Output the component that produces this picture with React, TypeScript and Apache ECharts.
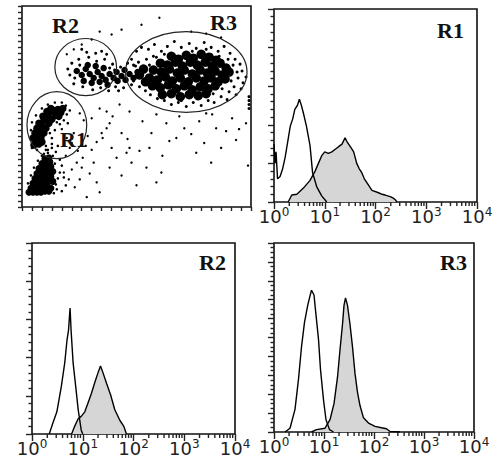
import React, { useEffect, useRef } from "react";
import * as echarts from "echarts";

// ---------- Scatter (FSC/SSC style) points, panel units ----------
const R3_CORE = [
  [150,153],[157,150],[165,154],[172,151],[180,155],[188,152],[195,149],
  [139,146],[146,144],[154,147],[161,143],[169,147],[176,144],[184,147],[191,143],[199,146],[205,141],
  [132,139],[140,137],[148,140],[156,136],[163,139],[171,135],[179,139],[186,136],[194,138],[201,134],[208,137],
  [128,131],[136,129],[144,132],[151,128],[159,131],[167,127],[175,131],[183,128],[190,131],[197,127],[204,130],
  [131,123],[139,121],[147,124],[155,120],[163,123],[171,119],[179,122],[187,120],[194,123],
  [141,114],[150,115],[159,112],[168,114],[177,113],[185,115],
  [118,134],[122,140],[124,127]
];
const R3_HALO = [
  [110,150],[115,158],[120,162],[127,160],[133,165],[140,158],[146,163],[153,168],[160,162],[168,166],[175,161],
  [183,167],[190,162],[197,158],[203,163],[209,156],[214,150],[219,145],[221,138],[217,131],[222,126],[213,122],
  [215,114],[208,117],[206,109],[200,112],[193,106],[187,108],[180,103],[172,106],[165,102],[157,106],[150,104],
  [143,108],[136,110],[129,114],[124,118],[118,122],[112,128],[108,136],[112,144],[117,147],[125,150],[132,153],
  [212,144],[210,128],[201,120],[192,115],[128,144],[135,152],[143,155],[171,158],[185,160],[160,108],[176,110],
  [198,153],[207,150],[216,137],[220,120],[225,132]
];
const R2_CORE = [
  [55,138],[60,134],[64,140],[68,135],[72,131],[76,137],[80,133],[84,129],[88,135],[62,128],[70,126],[78,127],
  [86,124],[66,144],[74,143],[82,141],[92,131],[96,128],[100,133],[104,129],[108,135],[112,131],[116,137],[103,139],[95,137]
];
const R2_HALO = [
  [46,140],[50,146],[53,131],[57,150],[61,122],[67,152],[71,119],[75,148],[79,121],[83,150],[87,118],[91,145],
  [94,122],[99,142],[102,121],[106,146],[110,124],[114,143],[58,144],[48,134],[52,125],[88,141],[93,139],[97,118],
  [74,156],[80,158],[65,157],[60,160],[85,155]
];
const R1_CORE = [
  [14,68],[16,73],[18,78],[20,83],[22,88],[25,92],[28,96],[32,98],[36,99],[39,96],[19,70],[22,75],[24,80],[27,85],
  [30,89],[34,93],[13,75],[15,80],[17,85],[21,92],[25,97],[29,100],[37,92],[41,100],[12,63],[17,64],[20,66],[11,70]
];
const R1_HALO = [
  [10,60],[15,58],[24,62],[30,70],[33,78],[38,84],[42,88],[45,94],[44,103],[40,106],[33,106],[26,104],[20,100],
  [14,93],[10,86],[9,78],[28,75],[35,86],[48,98],[46,85],[26,58],[22,54],[30,64]
];
const LOW_CORE = [
  [7,15],[11,15],[15,15],[19,15],[23,16],[27,16],[9,19],[13,19],[17,20],[21,20],[25,21],[29,19],[11,24],[15,24],
  [19,25],[23,25],[27,26],[13,29],[17,29],[21,30],[25,30],[29,31],[15,34],[19,34],[23,35],[27,36],[17,39],[21,39],
  [25,40],[29,41],[20,44],[24,45],[28,46],[23,49],[27,50],[31,36],[31,26]
];
const LOW_HALO = [
  [32,14],[35,18],[34,23],[36,29],[38,35],[33,44],[31,52],[34,56],[26,55],[20,52],[16,47],[12,40],[9,32],[6,24],
  [30,60],[36,62],[24,58],[38,48],[40,42],[42,30],[44,22],[40,16]
];
const SPARSE = [
  [40,79],[56,57],[61,50],[68,34],[75,25],[78,15],[81,70],[85,80],[88,85],[100,75],[106,69],[108,60],[118,57],
  [128,60],[141,52],[148,67],[163,80],[170,74],[183,65],[195,80],[205,77],[218,79],[100,32],[115,22],[135,25],
  [65,10],[85,97],[91,92],[98,104],[108,97],[121,87],[135,94],[158,92],[178,87],[191,94],[211,90],
  [45,70],[50,65],[52,75],[48,60],[55,45],[60,40],[44,52],[50,38],[58,28],[42,35],[47,28],[53,20],[64,62],[70,58],
  [72,45],[66,72],[75,66],[62,88],[58,95],[70,90],[78,100],[80,75],[90,60],[95,50],[110,45],[125,40],[140,35],
  [88,40],[105,55],[130,75],[145,85],[155,70],[175,55],[190,45],[200,60],[215,68],[225,85],[185,95],
  [138,192],[100,180],[120,185],[170,178],[185,176],[200,172],[90,175],[78,178],[70,170],[60,165],[52,160],[45,155],
  [227,42]
];
const EDGE = [[228,100],[228,104],[228,108],[228,112]];

// gates: centre x, centre y, radius x, radius y (panel units)
const GATES = [[35,83,30,34],[64,142,31,29],[165,137,61,41]];

// ---------- Histograms: x in log10 units, y in counts ----------
const R1_OPEN_LOG = [0,0.02,0.04,0.07,0.12,0.17,0.22,0.27,0.32,0.37,0.41,0.46,0.5,0.54,0.58,0.64,0.71,0.76,0.84,0.94,1.04];
const R1_OPEN_CNT = [75,50,65,30,33,43,58,78,98,108,120,125,133,125,115,98,73,38,20,8,0];
const R1_FILL_LOG = [0.28,0.35,0.45,0.58,0.71,0.81,0.875,0.94,1.0,1.07,1.14,1.2,1.24,1.3,1.34,1.4,1.44,1.47,1.52,1.57,1.63,1.68,1.73,1.78,1.83,1.93,2.06,2.13,2.19,2.29,2.35,2.39,2.42];
const R1_FILL_CNT = [0,9,10,18,28,40,50,60,65,63,65,68,70,73,75,83,78,75,70,65,50,43,38,30,25,15,12,10,9,7,5,3,0];

const R2_OPEN_LOG = [0.34,0.41,0.49,0.58,0.645,0.69,0.72,0.75,0.77,0.81,0.86,0.91,0.97,1.0];
const R2_OPEN_CNT = [0,14,29,63,93,123,136,165,136,93,63,32,5,0];
const R2_FILL_LOG = [0.78,0.84,0.91,0.97,1.04,1.1,1.17,1.24,1.3,1.35,1.4,1.47,1.55,1.63,1.73,1.81,1.86];
const R2_FILL_CNT = [0,10,20,23,29,40,53,68,80,89,80,66,51,32,18,10,0];

const R3_OPEN_LOG = [0.22,0.32,0.42,0.49,0.55,0.61,0.67,0.72,0.75,0.8,0.83,0.89,0.93,0.99,1.04,1.11,1.19];
const R3_OPEN_CNT = [0,8,48,112,180,232,266,288,300,290,258,196,132,68,26,5,0];
const R3_FILL_LOG = [0.75,0.85,1.02,1.12,1.2,1.27,1.32,1.37,1.4,1.43,1.47,1.52,1.57,1.62,1.67,1.72,1.79,1.89,2.02,2.15,2.25,2.32,2.52];
const R3_FILL_CNT = [0,5,8,26,60,116,174,228,268,284,268,228,180,124,84,56,30,19,12,9,7,1,0];

const MINOR_TICKS = [2,3,4,5,6,7,8,9,20,30,40,50,60,70,80,90,200,300,400,500,600,700,800,900,2000,3000,4000,5000,6000,7000,8000,9000];

const toXY = (logs: number[], cnt: number[]) => logs.map((l, i) => [Math.pow(10, l), cnt[i]]);

export default function App() {
  const ref = useRef<HTMLDivElement>(null);
  useEffect(() => {
    const chart = echarts.init(ref.current!, null, { renderer: "svg" });
    const tickColor = "#222";
    const grids = [
      { left: 22, top: 6, width: 229, height: 201 },
      { left: 274, top: 9, width: 203, height: 193 },
      { left: 32, top: 243, width: 203, height: 191 },
      { left: 274, top: 243, width: 200, height: 189 },
    ].map((g) => ({ ...g, show: true, borderColor: "#111", borderWidth: 1.6, backgroundColor: "#fff" }));

    const logAxis = (gi: number) => ({
      type: "log", logBase: 10, gridIndex: gi, min: 1, max: 10000,
      axisLine: { show: false },
      axisTick: { show: true, length: 7, lineStyle: { color: tickColor, width: 1.4 } },
      splitLine: { show: false },
      axisLabel: {
        margin: 4,
        formatter: (v: number) => "{b|10}{s|" + Math.round(Math.log10(v)) + "}",
        rich: {
          b: { fontFamily: "DejaVu Sans", fontSize: 18, color: "#222", lineHeight: 20 },
          s: { fontFamily: "DejaVu Sans", fontSize: 12, color: "#222", verticalAlign: "top", lineHeight: 12 },
        },
      },
    });
    const countAxis = (gi: number, max: number, interval: number, split: number) => ({
      type: "value", gridIndex: gi, min: 0, max, interval,
      axisLine: { show: false },
      axisLabel: { show: false },
      splitLine: { show: false },
      axisTick: { show: true, length: 6, lineStyle: { color: tickColor, width: 1.4 } },
      minorTick: { show: true, splitNumber: split, length: 3.5, lineStyle: { color: tickColor, width: 1.4 } },
    });

    const dots = (data: number[][], size: number) => ({
      type: "scatter", xAxisIndex: 0, yAxisIndex: 0, data, symbol: "circle", symbolSize: size,
      itemStyle: { color: "#000", opacity: 1, borderWidth: 0 }, silent: true,
    });

    const hist = (gi: number, data: number[][], filled: boolean) => ({
      type: "line", xAxisIndex: gi, yAxisIndex: gi, data, symbol: "none", z: filled ? 2 : 3,
      lineStyle: { color: "#000", width: 1.4 },
      areaStyle: filled ? { color: "#d6d6d6", opacity: 1 } : undefined,
    });

    const minorTicks = (gi: number) => ({
      type: "custom", xAxisIndex: gi, yAxisIndex: gi, clip: false, silent: true,
      data: MINOR_TICKS.map((v) => [v, 0]),
      renderItem: (_p: any, api: any) => {
        const p = api.coord([api.value(0), 0]);
        return { type: "line", shape: { x1: p[0], y1: p[1], x2: p[0], y2: p[1] + 4 }, style: { stroke: tickColor, lineWidth: 1.4 } };
      },
    });

    const label = (text: string, x: number, y: number) => ({
      type: "text", x, y, z: 100,
      style: { text, fontFamily: "Liberation Serif", fontWeight: "bold", fontSize: 22, fill: "#111", textVerticalAlign: "top" },
    });

    chart.setOption({
      animation: false,
      grid: grids,
      xAxis: [
        {
          type: "value", gridIndex: 0, min: 0, max: 230, interval: 10,
          axisLine: { show: false }, axisLabel: { show: false }, splitLine: { show: false },
          axisTick: { show: true, length: 4, lineStyle: { color: tickColor, width: 1.4 } },
        },
        logAxis(1), logAxis(2), logAxis(3),
      ],
      yAxis: [
        {
          type: "value", gridIndex: 0, min: 0, max: 204, interval: 6,
          axisLine: { show: false }, axisLabel: { show: false }, splitLine: { show: false },
          axisTick: { show: true, length: 4, lineStyle: { color: tickColor, width: 1.4 } },
        },
        countAxis(1, 250, 50, 5),
        countAxis(2, 250, 50, 5),
        countAxis(3, 400, 40, 4),
      ],
      series: [
        dots(SPARSE, 2.4), dots(EDGE, 3),
        dots(R3_HALO, 3), dots(R3_CORE, 9.5),
        dots(R2_HALO, 3), dots(R2_CORE, 6.5),
        dots(R1_HALO, 2.6), dots(R1_CORE, 7.5),
        dots(LOW_HALO, 2.6), dots(LOW_CORE, 7),
        {
          type: "custom", xAxisIndex: 0, yAxisIndex: 0, silent: true, z: 5,
          data: GATES,
          renderItem: (_p: any, api: any) => {
            const c = api.coord([api.value(0), api.value(1)]);
            const s = api.size([api.value(2), api.value(3)]);
            return { type: "ellipse", shape: { cx: c[0], cy: c[1], rx: s[0], ry: s[1] }, style: { fill: "none", stroke: "#222", lineWidth: 1.2 } };
          },
        },
        hist(1, toXY(R1_FILL_LOG, R1_FILL_CNT), true), hist(1, toXY(R1_OPEN_LOG, R1_OPEN_CNT), false),
        hist(2, toXY(R2_FILL_LOG, R2_FILL_CNT), true), hist(2, toXY(R2_OPEN_LOG, R2_OPEN_CNT), false),
        hist(3, toXY(R3_FILL_LOG, R3_FILL_CNT), true), hist(3, toXY(R3_OPEN_LOG, R3_OPEN_CNT), false),
        minorTicks(1), minorTicks(2), minorTicks(3),
      ],
      graphic: [
        label("R2", 52, 14), label("R3", 210, 11), label("R1", 60, 128),
        label("R1", 437, 19), label("R2", 199, 251), label("R3", 440, 251),
      ],
    });
    return () => chart.dispose();
  }, []);
  return <div ref={ref} style={{ position: "fixed", left: 0, top: 0, width: 496, height: 470, background: "#fff" }} />;
}
